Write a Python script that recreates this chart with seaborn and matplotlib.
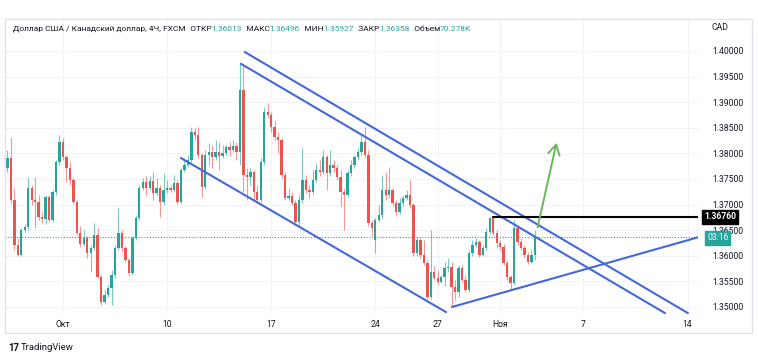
import matplotlib
matplotlib.use("Agg")
import matplotlib.pyplot as plt
import matplotlib.patches as mpatches
import numpy as np
import pandas as pd
import seaborn as sns

# USD/CAD 4H candles, bar number counts 4h bars from Oct 3 00:00 (weekends skipped)
first_bar = -16

opens = [
    1.3771, 1.3791, 1.3709, 1.3621, 1.3602, 1.3650, 1.3656, 1.3732, 1.3709, 1.3705,
    1.3676, 1.3672, 1.3715, 1.3670, 1.3725, 1.3783,
    1.3822, 1.3793, 1.3771, 1.3748, 1.3705, 1.3645, 1.3623, 1.3635, 1.3605, 1.3615,
    1.3641, 1.3559, 1.3510, 1.3523, 1.3537, 1.3563, 1.3615, 1.3645, 1.3615, 1.3592,
    1.3566, 1.3635, 1.3674, 1.3732, 1.3744, 1.3732, 1.3746, 1.3723, 1.3732, 1.3705,
    1.3729, 1.3732, 1.3729, 1.3742, 1.3705, 1.3768, 1.3777, 1.3787, 1.3842, 1.3836,
    1.3797, 1.3734, 1.3797, 1.3803, 1.3793, 1.3803, 1.3795, 1.3801, 1.3813, 1.3807,
    1.3814, 1.3803, 1.3924, 1.3758, 1.3754, 1.3764, 1.3725, 1.3709, 1.3783, 1.3881,
    1.3875, 1.3852, 1.3832, 1.3826, 1.3758, 1.3713, 1.3717, 1.3703, 1.3666, 1.3709,
    1.3748, 1.3729, 1.3725, 1.3748, 1.3768, 1.3764, 1.3793, 1.3762, 1.3777, 1.3771,
    1.3754, 1.3725, 1.3719, 1.3762, 1.3777, 1.3793, 1.3803, 1.3822, 1.3797, 1.3664,
    1.3631, 1.3670, 1.3680, 1.3729, 1.3719, 1.3729, 1.3703, 1.3686, 1.3703, 1.3713,
    1.3719, 1.3699, 1.3605, 1.3631, 1.3602, 1.3586, 1.3520, 1.3568, 1.3557, 1.3549,
    1.3559, 1.3576, 1.3578, 1.3539, 1.3529, 1.3576, 1.3553, 1.3533, 1.3605, 1.3621,
    1.3627, 1.3602, 1.3615, 1.3646, 1.3674, 1.3645, 1.3625, 1.3617, 1.3586, 1.3559,
    1.3547, 1.3654, 1.3627, 1.3615, 1.3602, 1.3588, 1.36013,
]
highs = [
    1.3807, 1.3832, 1.3732, 1.3635, 1.3654, 1.3662, 1.3754, 1.3738, 1.3754, 1.3719,
    1.3686, 1.3719, 1.3719, 1.3729, 1.3787, 1.3836,
    1.3830, 1.3797, 1.3783, 1.3752, 1.3709, 1.3658, 1.3650, 1.3639, 1.3621, 1.3664,
    1.3654, 1.3563, 1.3533, 1.3543, 1.3572, 1.3621, 1.3693, 1.3650, 1.3619, 1.3596,
    1.3639, 1.3680, 1.3738, 1.3752, 1.3756, 1.3756, 1.3764, 1.3752, 1.3738, 1.3762,
    1.3748, 1.3738, 1.3758, 1.3748, 1.3771, 1.3787, 1.3797, 1.3852, 1.3850, 1.3852,
    1.3801, 1.3807, 1.3820, 1.3816, 1.3826, 1.3822, 1.3816, 1.3816, 1.3822, 1.3826,
    1.3822, 1.3977, 1.3973, 1.3771, 1.3771, 1.3768, 1.3738, 1.3791, 1.3891, 1.3898,
    1.3881, 1.3865, 1.3842, 1.3830, 1.3764, 1.3732, 1.3725, 1.3709, 1.3719, 1.3811,
    1.3758, 1.3738, 1.3768, 1.3781, 1.3787, 1.3807, 1.3797, 1.3807, 1.3787, 1.3777,
    1.3768, 1.3732, 1.3768, 1.3787, 1.3797, 1.3811, 1.3836, 1.3852, 1.3807, 1.3670,
    1.3674, 1.3699, 1.3758, 1.3764, 1.3773, 1.3732, 1.3709, 1.3713, 1.3719, 1.3729,
    1.3748, 1.3703, 1.3637, 1.3635, 1.3631, 1.3592, 1.3650, 1.3580, 1.3572, 1.3563,
    1.3588, 1.3596, 1.3588, 1.3553, 1.3582, 1.3582, 1.3563, 1.3611, 1.3631, 1.3635,
    1.3631, 1.3621, 1.3654, 1.3675, 1.3676, 1.3650, 1.3631, 1.3623, 1.3592, 1.3563,
    1.3670, 1.3660, 1.3635, 1.3621, 1.3607, 1.3611, 1.36496,
]
lows = [
    1.3764, 1.3703, 1.3611, 1.3600, 1.3600, 1.3646, 1.3650, 1.3699, 1.3654, 1.3670,
    1.3664, 1.3662, 1.3666, 1.3666, 1.3719, 1.3777,
    1.3787, 1.3744, 1.3738, 1.3701, 1.3641, 1.3617, 1.3619, 1.3596, 1.3568, 1.3611,
    1.3557, 1.3504, 1.3506, 1.3520, 1.3504, 1.3557, 1.3611, 1.3607, 1.3588, 1.3563,
    1.3563, 1.3631, 1.3670, 1.3729, 1.3717, 1.3729, 1.3709, 1.3719, 1.3676, 1.3699,
    1.3723, 1.3725, 1.3725, 1.3701, 1.3703, 1.3764, 1.3773, 1.3783, 1.3826, 1.3791,
    1.3715, 1.3730, 1.3777, 1.3771, 1.3787, 1.3768, 1.3791, 1.3797, 1.3795, 1.3803,
    1.3787, 1.3777, 1.3725, 1.3709, 1.3738, 1.3705, 1.3703, 1.3705, 1.3777, 1.3869,
    1.3842, 1.3826, 1.3801, 1.3752, 1.3709, 1.3709, 1.3699, 1.3660, 1.3658, 1.3703,
    1.3723, 1.3713, 1.3719, 1.3744, 1.3756, 1.3760, 1.3729, 1.3756, 1.3764, 1.3748,
    1.3695, 1.3650, 1.3715, 1.3756, 1.3771, 1.3787, 1.3797, 1.3791, 1.3658, 1.3639,
    1.3605, 1.3666, 1.3674, 1.3709, 1.3713, 1.3697, 1.3680, 1.3682, 1.3697, 1.3709,
    1.3693, 1.3600, 1.3600, 1.3596, 1.3582, 1.3516, 1.3516, 1.3553, 1.3543, 1.3547,
    1.3541, 1.3568, 1.3500, 1.3514, 1.3520, 1.3549, 1.3529, 1.3529, 1.3600, 1.3617,
    1.3598, 1.3600, 1.3611, 1.3643, 1.3641, 1.3615, 1.3611, 1.3582, 1.3553, 1.3533,
    1.3543, 1.3621, 1.3611, 1.3596, 1.3584, 1.3586, 1.35927,
]
closes = [
    1.3791, 1.3709, 1.3621, 1.3602, 1.3650, 1.3656, 1.3732, 1.3709, 1.3705, 1.3676,
    1.3672, 1.3715, 1.3670, 1.3725, 1.3783, 1.3822,
    1.3793, 1.3771, 1.3748, 1.3705, 1.3645, 1.3623, 1.3635, 1.3605, 1.3615, 1.3641,
    1.3559, 1.3510, 1.3523, 1.3537, 1.3563, 1.3615, 1.3645, 1.3615, 1.3592, 1.3566,
    1.3635, 1.3674, 1.3732, 1.3744, 1.3732, 1.3746, 1.3723, 1.3732, 1.3705, 1.3729,
    1.3732, 1.3729, 1.3742, 1.3705, 1.3768, 1.3777, 1.3787, 1.3842, 1.3836, 1.3797,
    1.3734, 1.3797, 1.3803, 1.3793, 1.3803, 1.3795, 1.3801, 1.3813, 1.3807, 1.3814,
    1.3803, 1.3924, 1.3758, 1.3754, 1.3764, 1.3725, 1.3709, 1.3783, 1.3881, 1.3875,
    1.3852, 1.3832, 1.3826, 1.3758, 1.3713, 1.3717, 1.3703, 1.3666, 1.3709, 1.3748,
    1.3729, 1.3725, 1.3748, 1.3768, 1.3764, 1.3793, 1.3762, 1.3777, 1.3771, 1.3754,
    1.3725, 1.3719, 1.3762, 1.3777, 1.3793, 1.3803, 1.3822, 1.3797, 1.3664, 1.3654,
    1.3670, 1.3680, 1.3729, 1.3719, 1.3729, 1.3703, 1.3686, 1.3703, 1.3713, 1.3719,
    1.3699, 1.3605, 1.3631, 1.3602, 1.3586, 1.3520, 1.3568, 1.3557, 1.3549, 1.3559,
    1.3576, 1.3578, 1.3539, 1.3529, 1.3576, 1.3553, 1.3533, 1.3605, 1.3621, 1.3627,
    1.3602, 1.3615, 1.3646, 1.3674, 1.3645, 1.3625, 1.3617, 1.3586, 1.3559, 1.3547,
    1.3654, 1.3627, 1.3615, 1.3602, 1.3588, 1.3601, 1.36358,
]

# time axis
tick_bars = [0, 30, 60, 90, 108, 126, 150, 180]
tick_labels = ["Окт", "10", "17", "24", "27", "Ноя", "7", "14"]
price_ticks = [1.35, 1.355, 1.36, 1.365, 1.37, 1.375, 1.38, 1.385, 1.39, 1.395, 1.40]

# hand-drawn lines on the chart: (bars, prices)
channel_low = ([34.0, 110.4], [1.3791, 1.3490])
channel_top_inner = ([51.3, 173.5], [1.3975, 1.3488])
channel_top_outer = ([52.4, 180.1], [1.3998, 1.3488])
wedge_support = ([112.1, 183.5], [1.3500, 1.3637])
resistance = ([124, 183.5], [1.3676, 1.3676])
target_arrow = ([136.6, 142.4], [1.3650, 1.3826])

last_price = 1.36358
header = [
    ("Доллар США / Канадский доллар, 4Ч, FXCM", "dark"),
    ("  ОТКР", "dark"), ("1.36013", "val"),
    ("  МАКС", "dark"), ("1.36496", "val"),
    ("  МИН", "dark"), ("1.35927", "val"),
    ("  ЗАКР", "dark"), ("1.36358", "val"),
    ("  Объем", "dark"), ("70.278K", "val"),
]

GREEN = "#26a69a"
RED = "#ef5350"
BLUE = "#4468d8"
DARK = "#131722"
FS = 6.2

sns.set_theme(style="white")
plt.rcParams["font.family"] = ["Roboto", "DejaVu Sans"]

df = pd.DataFrame({"open": opens, "high": highs, "low": lows, "close": closes})
df["bar"] = np.arange(first_bar, first_bar + len(df))
df["up"] = df["close"] >= df["open"]
body = df["close"] - df["open"]
body = body.where(body.abs() > 0.00003, 0.00003)
colors = np.where(df["up"], GREEN, RED)

fig = plt.figure(figsize=(7.58, 3.59), dpi=100)
ax = fig.add_axes([5 / 758, 45 / 359, 693 / 758, 297 / 359])

# grid
for p in price_ticks:
    ax.axhline(p, color="#f0f3fa", lw=0.8, zorder=0)
for b in tick_bars:
    ax.axvline(b, color="#f0f3fa", lw=0.8, zorder=0)

# candles
ax.vlines(df["bar"], df["low"], df["high"], colors=colors, lw=0.8, alpha=0.6, zorder=2)
ax.bar(df["bar"], body, bottom=df["open"], width=0.68, color=colors, lw=0, zorder=3)

# current price dotted line
ax.axhline(last_price, color=GREEN, lw=0.8, ls=(0, (1, 1.5)), zorder=1)

# drawings
for xs, ys in [channel_low, channel_top_inner, channel_top_outer, wedge_support]:
    sns.lineplot(x=xs, y=ys, ax=ax, color=BLUE, lw=1.5, zorder=4)
sns.lineplot(x=resistance[0], y=resistance[1], ax=ax, color="black", lw=1.5, zorder=4)
ax.annotate("", xy=(target_arrow[0][1], target_arrow[1][1]),
            xytext=(target_arrow[0][0], target_arrow[1][0]),
            arrowprops=dict(arrowstyle="->,head_length=0.6,head_width=0.35",
                            color="#66b85a", lw=1.4), zorder=5)

ax.set_xlim(-16.7, 183)
ax.set_ylim(1.34863, 1.40664)
for s in ax.spines.values():
    s.set_visible(False)

ax.set_xticks(tick_bars)
ax.set_xticklabels(tick_labels)
ax.yaxis.tick_right()
ax.set_yticks(price_ticks)
ax.set_yticklabels([f"{p:.5f}" for p in price_ticks])
ax.tick_params(axis="x", length=0, pad=4, labelsize=FS, labelcolor=DARK)
ax.tick_params(axis="y", length=0, pad=10, labelsize=FS, labelcolor=DARK)
ax.set_xlabel("")
ax.set_ylabel("")

# price labels on the right axis
ytr = ax.get_yaxis_transform()
ax.text(1.0085, resistance[1][0], "1.36760", transform=ytr, ha="left", va="center",
        color="white", fontsize=FS, fontweight="bold", zorder=10, clip_on=False,
        bbox=dict(boxstyle="square,pad=0.25", fc="black", ec="black"))
ax.text(1.013, last_price - 0.0001, "03:16", transform=ytr, ha="left", va="center",
        color="white", fontsize=FS, zorder=10, clip_on=False,
        bbox=dict(boxstyle="square,pad=0.25", fc=GREEN, ec=GREEN))

# header line
prev = ax.text(0.0115, 0.96, header[0][0], transform=ax.transAxes, ha="left",
               va="center", color=DARK, fontsize=6.05)
for txt, kind in header[1:]:
    prev = ax.annotate(txt, xy=(1, 0), xycoords=prev, ha="left", va="bottom",
                       color=DARK if kind == "dark" else GREEN, fontsize=6.05)

fig.text(712 / 758, 1 - 28 / 359, "CAD", ha="left", va="center", color=DARK, fontsize=FS)

# outer frame and logo
fig.patches.append(mpatches.Rectangle((5 / 758, 26 / 359), 747 / 758, 314 / 359,
                                      transform=fig.transFigure, fill=False,
                                      ec="#e0e3eb", lw=1))
fig.text(8 / 758, 1 - 348 / 359, "17", ha="left", va="center", color=DARK,
         fontsize=7, fontweight="bold")
fig.text(21 / 758, 1 - 348 / 359, "TradingView", ha="left", va="center",
         color=DARK, fontsize=6.8)

plt.savefig("out.png", dpi=100)
plt.close()
